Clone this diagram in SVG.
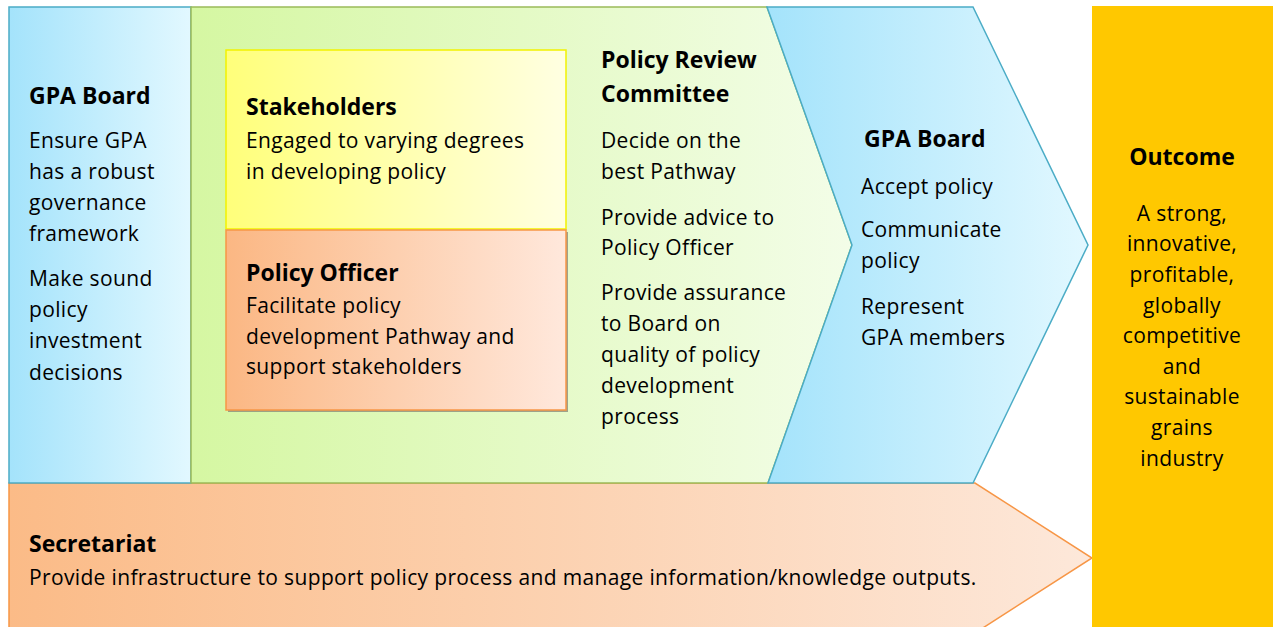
<svg xmlns="http://www.w3.org/2000/svg" width="1273" height="627" viewBox="0 0 1273 627">
<defs>
<linearGradient id="gBlue" x1="0" y1="0" x2="1" y2="0"><stop offset="0" stop-color="#a4e3fb"/><stop offset="1" stop-color="#e2f8ff"/></linearGradient>
<linearGradient id="gGreen" x1="0" y1="0" x2="1" y2="0"><stop offset="0" stop-color="#d5f7a2"/><stop offset="1" stop-color="#f3fde8"/></linearGradient>
<linearGradient id="gYellow" x1="0" y1="0" x2="1" y2="0"><stop offset="0" stop-color="#ffff7a"/><stop offset="1" stop-color="#ffffe2"/></linearGradient>
<linearGradient id="gOrange" x1="0" y1="0" x2="1" y2="0"><stop offset="0" stop-color="#fbb783"/><stop offset="1" stop-color="#ffe8dc"/></linearGradient>
<linearGradient id="gSec" x1="0" y1="0" x2="1" y2="0"><stop offset="0" stop-color="#fbbb87"/><stop offset="1" stop-color="#fde8da"/></linearGradient>
<style>
text{font-family:"Open Sans","Liberation Sans",sans-serif;font-size:21px;letter-spacing:0.35px;fill:#000}
.b{font-weight:bold;font-size:23px;letter-spacing:0}
.c{text-anchor:middle}
</style>
</defs>
<rect width="1273" height="627" fill="#fff"/>
<g id="secretariat">
<polygon points="9,483 975,483 1092,558 975,633 9,633" fill="url(#gSec)" stroke="#f79646" stroke-width="1.5"/>
<text x="29" y="552" class="b">Secretariat</text>
<text x="29" y="585">Provide infrastructure to support policy process and manage information/knowledge outputs.</text>
</g>
<g id="gpa-board-left">
<rect x="9" y="7" width="182" height="476" fill="url(#gBlue)" stroke="#4bacc6" stroke-width="1.5"/>
<text x="29" y="104" class="b">GPA Board</text>
<text x="29" y="148">Ensure GPA</text>
<text x="29" y="179">has a robust</text>
<text x="29" y="210">governance</text>
<text x="29" y="241">framework</text>
<text x="29" y="286">Make sound</text>
<text x="29" y="317">policy</text>
<text x="29" y="348">investment</text>
<text x="29" y="380">decisions</text>
</g>
<g id="policy-review-committee">
<polygon points="191,7 767,7 852,245 768,483 191,483" fill="url(#gGreen)" stroke="#9bbb59" stroke-width="1.5"/>
<text x="601" y="68" class="b">Policy Review</text>
<text x="601" y="102" class="b">Committee</text>
<text x="601" y="148">Decide on the</text>
<text x="601" y="179">best Pathway</text>
<text x="601" y="225">Provide advice to</text>
<text x="601" y="255">Policy Officer</text>
<text x="601" y="300">Provide assurance</text>
<text x="601" y="331">to Board on</text>
<text x="601" y="362">quality of policy</text>
<text x="601" y="393">development</text>
<text x="601" y="424">process</text>
</g>
<g id="stakeholders">
<rect x="226" y="50" width="340" height="179" fill="url(#gYellow)" stroke="#f2f200" stroke-width="1.5"/>
<text x="246" y="115" class="b">Stakeholders</text>
<text x="246" y="148">Engaged to varying degrees</text>
<text x="246" y="179">in developing policy</text>
</g>
<g id="policy-officer">
<rect x="228" y="232" width="340" height="180" fill="#8c8c7a" opacity="0.8"/>
<rect x="226" y="230" width="340" height="180" fill="url(#gOrange)" stroke="#f79646" stroke-width="1.5"/>
<text x="246" y="281" class="b">Policy Officer</text>
<text x="246" y="313">Facilitate policy</text>
<text x="246" y="344">development Pathway and</text>
<text x="246" y="374">support stakeholders</text>
</g>
<g id="gpa-board-right">
<polygon points="767,7 973,7 1088,245 973,483 768,483 852,245" fill="url(#gBlue)" stroke="#4bacc6" stroke-width="1.5"/>
<text x="864" y="147" class="b">GPA Board</text>
<text x="861" y="194">Accept policy</text>
<text x="861" y="237">Communicate</text>
<text x="861" y="268">policy</text>
<text x="861" y="314">Represent</text>
<text x="861" y="345">GPA members</text>
</g>
<g id="outcome">
<rect x="1092" y="6" width="181" height="621" fill="#ffc800"/>
<text x="1182" y="165" class="b c">Outcome</text>
<text x="1182" y="221" class="c">A strong,</text>
<text x="1182" y="251" class="c">innovative,</text>
<text x="1182" y="282" class="c">profitable,</text>
<text x="1182" y="313" class="c">globally</text>
<text x="1182" y="343" class="c">competitive</text>
<text x="1182" y="374" class="c">and</text>
<text x="1182" y="404" class="c">sustainable</text>
<text x="1182" y="435" class="c">grains</text>
<text x="1182" y="466" class="c">industry</text>
</g>
<g id="connectors"/>
</svg>
